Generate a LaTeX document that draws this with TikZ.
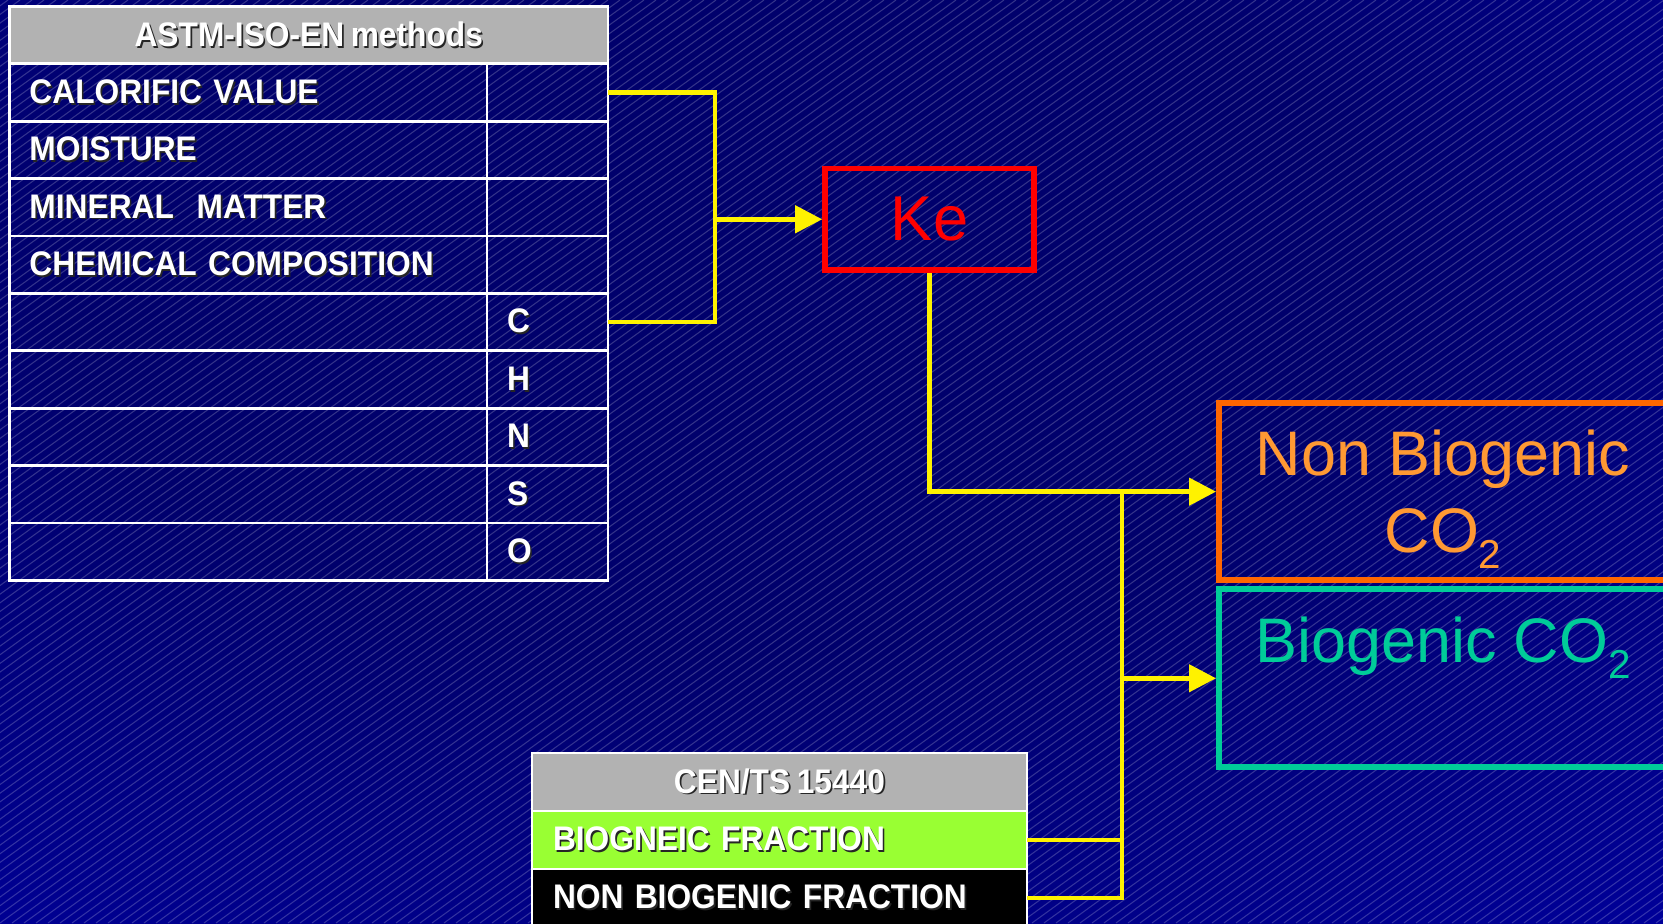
\documentclass[tikz,border=0pt]{standalone}
\usepackage{fontspec}
\setmainfont{Liberation Sans}
\newfontfamily\tabfont[FakeStretch=0.93,WordSpace=0.75]{Liberation Sans}
\usetikzlibrary{arrows.meta,positioning,calc}

\definecolor{bgdark}{RGB}{0,0,108}
\definecolor{bgmid}{RGB}{0,0,158}
\definecolor{bglight}{RGB}{22,22,218}
\definecolor{bgedge}{RGB}{32,32,236}
\definecolor{hdrgrey}{RGB}{178,178,178}
\definecolor{biogreen}{RGB}{153,255,51}
\definecolor{nbborder}{RGB}{255,102,0}
\definecolor{nbtext}{RGB}{255,153,51}
\definecolor{bioteal}{RGB}{0,204,153}

\pgfdeclareradialshading{slidebg}{\pgfpoint{-4bp}{12bp}}{%
  color(0bp)=(bgdark); color(20bp)=(bgdark); color(45bp)=(bgmid);
  color(70bp)=(bglight); color(100bp)=(bgedge)}

\newcommand{\shad}[1]{\makebox[0pt][l]{\kern0.05em\raisebox{-0.05em}{\color{black!85}#1}}#1}
\newcommand{\subtwo}{\raisebox{-0.25em}[0pt][0pt]{\fontsize{11.5}{12}\selectfont 2}}

\begin{document}
\begin{tikzpicture}[
  cell/.style={draw=white, line width=0.8pt, minimum height=0.574cm, inner ysep=0pt,
    outer sep=0pt, anchor=north west, text=white,
    font=\tabfont\bfseries\fontsize{9.7}{11}\selectfont},
  lcell/.style={cell, text width=4.375cm, inner xsep=0.2cm, align=left},
  rcell/.style={cell, text width=0.81cm, inner xsep=0.2cm, align=left},
  hdr/.style={cell, fill=hdrgrey, align=center},
  kebox/.style={draw=red, line width=1.6pt, minimum width=2.09cm, minimum height=1.015cm,
    text=red, font=\fontsize{18}{22}\selectfont},
  co2box/.style={line width=1.7pt, minimum width=4.48cm, align=center,
    font=\fontsize{17.9}{22}\selectfont},
  hatch/.style={white, opacity=0.2, line width=0.3pt},
  conn/.style={draw=yellow, line width=1.3pt},
  arr/.style={conn, -{Triangle[length=0.27cm, width=0.27cm]}}
]

\useasboundingbox (0,0) rectangle (16.63,9.23);
\clip (0,0) rectangle (16.63,9.23);
\shade[shading=slidebg] (0,0) rectangle (16.63,9.23);
\foreach \i in {-108,...,140}
  \draw[hatch] (\i*0.12,0) -- ++(12.8,9.23);

\node[hdr, minimum width=5.985cm] (astm) at (0.095,9.166) {\shad{ASTM-ISO-EN methods}};
\node[lcell] (lbl1) at (astm.south west) {\shad{CALORIFIC VALUE}};
\node[rcell] (val1) at (lbl1.north east) {};
\node[lcell] (lbl2) at (lbl1.south west) {\shad{MOISTURE}};
\node[rcell] (val2) at (lbl2.north east) {};
\node[lcell] (lbl3) at (lbl2.south west) {\shad{MINERAL\ \ MATTER}};
\node[rcell] (val3) at (lbl3.north east) {};
\node[lcell] (lbl4) at (lbl3.south west) {\shad{CHEMICAL COMPOSITION}};
\node[rcell] (val4) at (lbl4.north east) {};
\foreach \el [count=\i from 5, evaluate=\i as \j using int(\i-1)] in {C,H,N,S,O} {
  \node[lcell] (lbl\i) at (lbl\j.south west) {};
  \node[rcell] (val\i) at (lbl\i.north east) {\shad{\el}};
}

\node[kebox] (ke) at (9.295,7.037) {Ke};

\node[co2box, draw=nbborder, text=nbtext, minimum height=1.773cm] (nonbio) at (14.43,4.3135)
  {Non Biogenic\\CO\subtwo};
\node[co2box, draw=bioteal, text=bioteal, minimum height=1.78cm, below=0.03cm of nonbio] (bio)
  {Biogenic CO\subtwo\\\mbox{}};

\node[hdr, minimum width=4.95cm, minimum height=0.58cm] (cen) at (5.32,1.70) {\shad{CEN/TS 15440}};
\node[lcell, text width=4.53cm, inner xsep=0.21cm, minimum height=0.58cm, fill=biogreen] (biofr)
  at (cen.south west) {\shad{BIOGNEIC FRACTION}};
\node[lcell, text width=4.53cm, inner xsep=0.21cm, minimum height=0.58cm, fill=black] (nbfr)
  at (biofr.south west) {\shad{NON BIOGENIC FRACTION}};

\coordinate (brk) at ($(ke.west)+(-1.07,0)$);
\coordinate (jn) at ($(nonbio.west)+(-0.94,0)$);

\draw[conn] (val1.east) -| (brk) |- (val5.east);
\draw[arr] (brk) -- (ke.west);
\draw[arr] (ke.south) |- (nonbio.west);
\draw[conn] (biofr.east) -| (jn);
\draw[conn] (nbfr.east) -| (jn);
\draw[arr] (jn |- bio.west) -- (bio.west);

\end{tikzpicture}
\end{document}
